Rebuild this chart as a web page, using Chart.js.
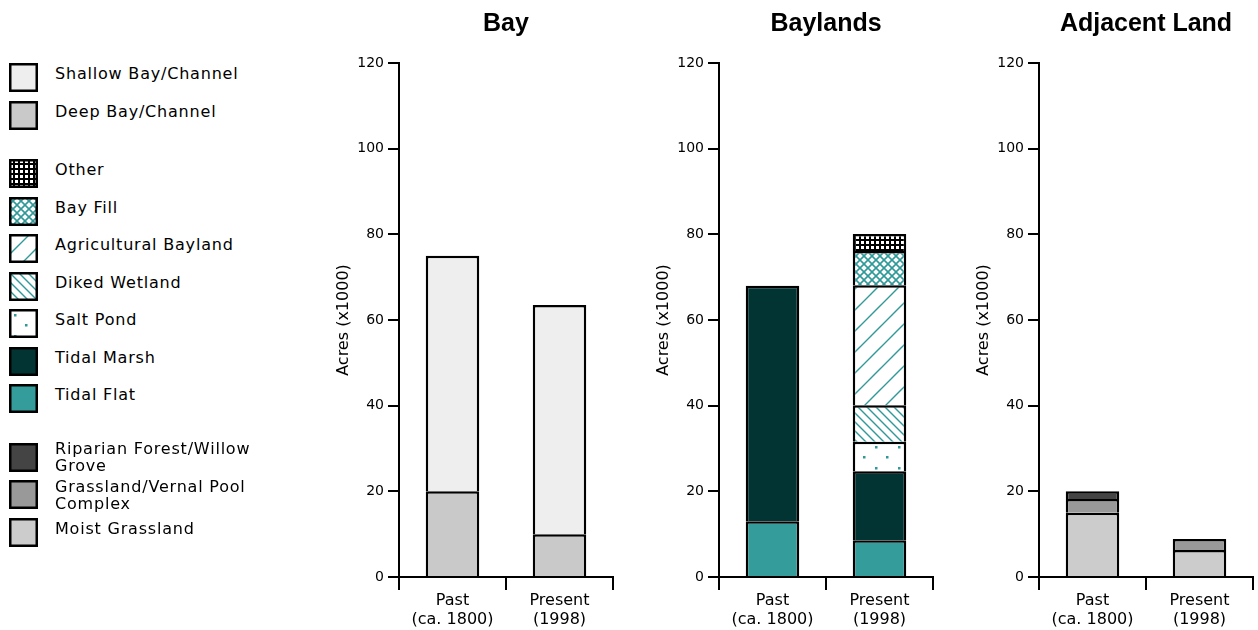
<!DOCTYPE html>
<html>
<head>
<meta charset="utf-8">
<script src="https://cdn.jsdelivr.net/npm/chart.js@4.4.0/dist/chart.umd.min.js"></script>
<style>
  body { margin: 0; background: #fff; width: 1258px; height: 630px; overflow: hidden; position: relative; font-family: "DejaVu Sans", sans-serif; }
  .panel { position: absolute; top: 0; }
  #legend { position: absolute; left: 9px; top: 59px; }
  .item { display: flex; align-items: center; height: 37.5px; }
  .item.gap { margin-top: 21px; }
  .item canvas { flex: none; }
  .lbl { margin-left: 17px; font-size: 16px; letter-spacing: 0.8px; line-height: 17px; width: 230px; color: #000; }
  .lbl.one { transform: translateY(-4px); }
</style>
</head>
<body>
<div id="legend"></div>
<canvas id="bay" class="panel" style="left:320px" width="298" height="630"></canvas>
<canvas id="baylands" class="panel" style="left:640px" width="298" height="630"></canvas>
<canvas id="adjacent" class="panel" style="left:960px" width="298" height="630"></canvas>
<script>
// categories and values (acres x1000)
var categories = [["Past", "(ca. 1800)"], ["Present", "(1998)"]];

var deepBay    = [20, 10];
var shallowBay = [55, 53.5];

var tidalFlat    = [13, 8.6];
var tidalMarsh   = [55, 16.1];
var saltPond     = [null, 6.9];
var dikedWetland = [null, 8.5];
var agBayland    = [null, 28];
var bayFill      = [null, 8];
var otherLand    = [null, 4];

var moistGrass  = [15, 6.3];
var grassVernal = [3.2, 2.6];
var riparian    = [1.8, null];

var yMin = 0, yMax = 120, yStep = 20;

var legendGroups = [
  ["Shallow Bay/Channel", "Deep Bay/Channel"],
  ["Other", "Bay Fill", "Agricultural Bayland", "Diked Wetland", "Salt Pond", "Tidal Marsh", "Tidal Flat"],
  ["Riparian Forest/Willow Grove", "Grassland/Vernal Pool Complex", "Moist Grassland"]
];

// fills
var TEAL = "#2f9898";
function tile(w, h, draw) {
  var c = document.createElement("canvas");
  c.width = w; c.height = h;
  var g = c.getContext("2d");
  g.fillStyle = "#fff";
  g.fillRect(0, 0, w, h);
  draw(g, w, h);
  return g.createPattern(c, "repeat");
}
var patOther = tile(5, 5, function (g) {
  g.fillStyle = "#000"; g.fillRect(0, 0, 5, 5);
  g.fillStyle = "#fff"; g.fillRect(1, 1, 3, 3);
});
var patBayFill = tile(8, 8, function (g) {
  g.strokeStyle = TEAL; g.lineWidth = 1.6;
  g.beginPath();
  g.moveTo(-1, -1); g.lineTo(9, 9);
  g.moveTo(9, -1); g.lineTo(-1, 9);
  g.stroke();
});
var patAg = tile(21, 21, function (g, w, h) {
  g.strokeStyle = TEAL; g.lineWidth = 1.4;
  g.beginPath();
  g.moveTo(-2, h + 2); g.lineTo(w + 2, -2);
  g.moveTo(-2, 2); g.lineTo(2, -2);
  g.moveTo(w - 2, h + 2); g.lineTo(w + 2, h - 2);
  g.stroke();
});
var patDiked = tile(9, 9, function (g, w, h) {
  g.strokeStyle = TEAL; g.lineWidth = 1.4;
  g.beginPath();
  g.moveTo(-2, -2); g.lineTo(w + 2, h + 2);
  g.moveTo(w - 2, -2); g.lineTo(w + 2, 2);
  g.moveTo(-2, h - 2); g.lineTo(2, h + 2);
  g.stroke();
});
var patSalt = tile(23, 21, function (g) {
  g.fillStyle = TEAL;
  g.fillRect(5, 5, 2.5, 2.5);
  g.fillRect(16, 15, 2.5, 2.5);
});

var fills = {
  "Shallow Bay/Channel": "#eeeeee",
  "Deep Bay/Channel": "#c9c9c9",
  "Other": patOther,
  "Bay Fill": patBayFill,
  "Agricultural Bayland": patAg,
  "Diked Wetland": patDiked,
  "Salt Pond": patSalt,
  "Tidal Marsh": "#033434",
  "Tidal Flat": "#349c9a",
  "Riparian Forest/Willow Grove": "#444444",
  "Grassland/Vernal Pool Complex": "#999999",
  "Moist Grassland": "#cccccc"
};

// legend
var legend = document.getElementById("legend");
legendGroups.forEach(function (group, gi) {
  group.forEach(function (name, i) {
    var row = document.createElement("div");
    row.className = "item" + (gi > 0 && i === 0 ? " gap" : "");
    var sw = document.createElement("canvas");
    sw.width = 29; sw.height = 29;
    var g = sw.getContext("2d");
    g.fillStyle = fills[name];
    g.fillRect(0, 0, 29, 29);
    g.strokeStyle = "#000"; g.lineWidth = 2.5;
    g.strokeRect(1.25, 1.25, 26.5, 26.5);
    var lbl = document.createElement("div");
    lbl.className = "lbl";
    lbl.textContent = name;
    row.appendChild(sw);
    row.appendChild(lbl);
    legend.appendChild(row);
    if (lbl.clientHeight < 20) lbl.className += " one";
  });
});

// charts
Chart.defaults.font.family = "'DejaVu Sans', sans-serif";
Chart.defaults.color = "#000";

function ds(name, values) {
  return {
    label: name,
    data: values,
    backgroundColor: fills[name],
    borderColor: "#000",
    // one line between stacked pieces, the axis closes the bottom
    borderWidth: { top: 2.5, left: 2.5, right: 2.5, bottom: 0 },
    borderSkipped: false,
    barPercentage: 0.5,
    categoryPercentage: 1
  };
}

function makeChart(id, title, datasets) {
  return new Chart(document.getElementById(id), {
    type: "bar",
    data: { labels: categories, datasets: datasets },
    options: {
      responsive: false,
      animation: false,
      layout: { padding: { left: 0, right: 5, top: 0, bottom: 0 } },
      plugins: {
        legend: { display: false },
        tooltip: { enabled: false },
        title: {
          display: true,
          text: title,
          fullSize: false,
          font: { family: "'Liberation Sans', Arial, sans-serif", size: 25, weight: "bold" },
          padding: { top: 9, bottom: 24 }
        }
      },
      scales: {
        x: {
          stacked: true,
          border: { display: true, color: "#000", width: 2 },
          grid: { drawOnChartArea: false, drawTicks: true, tickLength: 13, color: "#000", lineWidth: 2, offset: true },
          ticks: { font: { size: 16, lineHeight: 1.15 }, padding: 2, color: "#000", maxRotation: 0 },
          afterFit: function (s) { s.height = 53; }
        },
        y: {
          stacked: true,
          min: yMin, max: yMax,
          border: { display: true, color: "#000", width: 2 },
          grid: { drawOnChartArea: false, drawTicks: true, tickLength: 11, color: "#000", lineWidth: 2 },
          ticks: { stepSize: yStep, font: { size: 14 }, padding: 4, color: "#000" },
          title: { display: true, text: "Acres (x1000)", font: { size: 16 }, padding: { top: 14, bottom: 0 } },
          afterFit: function (s) { s.width = 79; }
        }
      }
    }
  });
}

makeChart("bay", "Bay", [
  ds("Deep Bay/Channel", deepBay),
  ds("Shallow Bay/Channel", shallowBay)
]);
makeChart("baylands", "Baylands", [
  ds("Tidal Flat", tidalFlat),
  ds("Tidal Marsh", tidalMarsh),
  ds("Salt Pond", saltPond),
  ds("Diked Wetland", dikedWetland),
  ds("Agricultural Bayland", agBayland),
  ds("Bay Fill", bayFill),
  ds("Other", otherLand)
]);
makeChart("adjacent", "Adjacent Land", [
  ds("Moist Grassland", moistGrass),
  ds("Grassland/Vernal Pool Complex", grassVernal),
  ds("Riparian Forest/Willow Grove", riparian)
]);
</script>
</body>
</html>
